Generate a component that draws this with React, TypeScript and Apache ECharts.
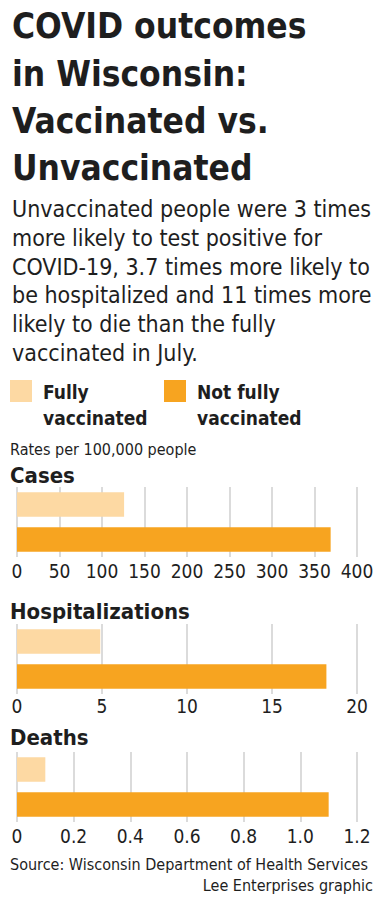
import React, { useEffect, useRef } from "react";
import * as echarts from "echarts";

const groups = ["Fully vaccinated", "Not fully vaccinated"];
const casesValues = [126, 369];
const hospValues = [4.9, 18.2];
const deathValues = [0.1, 1.1];
const casesTicks = [0, 50, 100, 150, 200, 250, 300, 350, 400];
const hospTicks = [0, 5, 10, 15, 20];
const deathTickLabels = ["0", "0.2", "0.4", "0.6", "0.8", "1.0", "1.2"];

const titleLines = ["COVID outcomes", "in Wisconsin:", "Vaccinated vs.", "Unvaccinated"];
const subtitleLines = [
  "Unvaccinated people were 3 times",
  "more likely to test positive for",
  "COVID-19, 3.7 times more likely to",
  "be hospitalized and 11 times more",
  "likely to die than the fully",
  "vaccinated in July.",
];
const panelTitles = ["Cases", "Hospitalizations", "Deaths"];

const LIGHT = "#FDD9A3";
const DARK = "#F7A420";
const INK = "#1e1e1e";
const FONT = "'DejaVu Sans Condensed', 'DejaVu Sans', sans-serif";

function txt(text: string, x: number, baseline: number, fs: number, weight: any, align: string = "left", color = INK) {
  return {
    type: "text",
    x,
    y: baseline - 0.33 * fs,
    style: {
      text,
      fill: color,
      font: `${weight} ${fs}px ${FONT}`,
      fontFamily: FONT,
      fontSize: fs,
      fontWeight: weight,
      align,
      verticalAlign: "middle",
    },
  };
}

export default function App() {
  const ref = useRef<HTMLDivElement>(null);
  useEffect(() => {
    if (!ref.current) return;
    const chart = echarts.init(ref.current, undefined, { renderer: "svg" });

    const panels = [
      { top: 487, max: casesTicks[casesTicks.length - 1], interval: casesTicks[1], values: casesValues, fmt: (v: number) => String(v), margin: 4 },
      { top: 624, max: hospTicks[hospTicks.length - 1], interval: hospTicks[1], values: hospValues, fmt: (v: number) => String(v), margin: 2 },
      { top: 752, max: 1.2, interval: 0.2, values: deathValues, fmt: (v: number) => deathTickLabels[Math.round(v / 0.2)] ?? "", margin: 4 },
    ];

    const graphics: any[] = [];
    titleLines.forEach((t, i) => graphics.push(txt(t, 12, 38 + i * 47.3, 35, 900)));
    subtitleLines.forEach((t, i) => graphics.push(txt(t, 12, 216.7 + i * 28.7, 23, 400)));
    graphics.push({ type: "rect", shape: { x: 10, y: 380, width: 22, height: 22 }, style: { fill: LIGHT } });
    graphics.push({ type: "rect", shape: { x: 164, y: 380, width: 22, height: 22 }, style: { fill: DARK } });
    graphics.push(txt("Fully", 43, 398, 19, 700));
    graphics.push(txt("vaccinated", 43, 424, 19, 700));
    graphics.push(txt("Not fully", 197, 398, 19, 700));
    graphics.push(txt("vaccinated", 197, 424, 19, 700));
    graphics.push(txt("Rates per 100,000 people", 10, 455, 16, 400));
    const titleBase = [483, 619, 745];
    panelTitles.forEach((t, i) => graphics.push(txt(t, 10, titleBase[i], 22, 900)));
    graphics.push(txt("Source: Wisconsin Department of Health Services", 10, 870, 16, 400));
    graphics.push(txt("Lee Enterprises graphic", 373, 891, 16, 400, "right"));

    const option: any = {
      animation: false,
      backgroundColor: "#fff",
      grid: panels.map((p) => ({ left: 17, right: 27, top: p.top, height: 70, containLabel: false })),
      xAxis: panels.map((p, i) => ({
        type: "value",
        gridIndex: i,
        min: 0,
        max: p.max,
        interval: p.interval,
        axisLine: { show: false },
        axisTick: { show: false },
        splitLine: { show: true, lineStyle: { color: "#cfcfcf", width: 1.5 } },
        axisLabel: {
          formatter: p.fmt,
          color: INK,
          fontFamily: FONT,
          fontSize: 19,
          margin: p.margin,
          showMinLabel: true,
          showMaxLabel: true,
        },
      })),
      yAxis: panels.map((p, i) => ({
        type: "category",
        gridIndex: i,
        data: groups,
        inverse: true,
        axisLine: { show: false },
        axisTick: { show: false },
        axisLabel: { show: false },
      })),
      series: panels.map((p, i) => ({
        type: "bar",
        xAxisIndex: i,
        yAxisIndex: i,
        barWidth: 24.5,
        data: p.values.map((v, j) => ({ value: v, itemStyle: { color: j === 0 ? LIGHT : DARK } })),
      })),
      graphic: graphics,
    };
    chart.setOption(option);
    return () => chart.dispose();
  }, []);
  return <div ref={ref} style={{ position: "absolute", left: 0, top: 0, width: 384, height: 911 }} />;
}
